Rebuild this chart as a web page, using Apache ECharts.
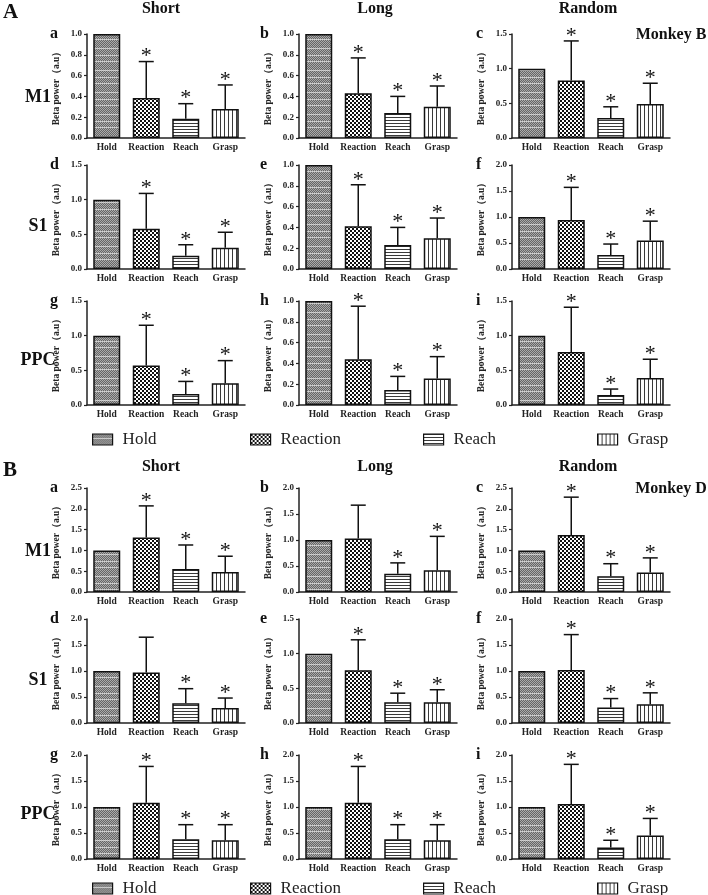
<!DOCTYPE html>
<html><head><meta charset="utf-8">
<script src="https://cdn.jsdelivr.net/npm/echarts@6/dist/echarts.min.js"></script>
<style>html,body{margin:0;padding:0;background:#fff}#c{width:708px;height:895px}</style>
</head><body><div id="c"></div>
<script>
const categories = ['Hold', 'Reaction', 'Reach', 'Grasp'];
const conditions = ['Short', 'Long', 'Random'];
const regions = ['M1', 'S1', 'PPC'];
const panelLetters = ['a', 'b', 'c', 'd', 'e', 'f', 'g', 'h', 'i'];
const yAxisName = 'Beta power（a.u）';

// Monkey B (section A), panels a..i : mean, upper error, significance star
const mB_a_mean = [1.00, 0.385, 0.185, 0.28]; const mB_a_err = [null, 0.735, 0.33, 0.51]; const mB_a_star = [0, 1, 1, 1];
const mB_b_mean = [1.00, 0.43, 0.24, 0.30];   const mB_b_err = [null, 0.77, 0.40, 0.50];  const mB_b_star = [0, 1, 1, 1];
const mB_c_mean = [1.00, 0.83, 0.29, 0.49];   const mB_c_err = [null, 1.40, 0.45, 0.79];  const mB_c_star = [0, 1, 1, 1];
const mB_d_mean = [1.00, 0.58, 0.19, 0.305];  const mB_d_err = [null, 1.09, 0.35, 0.53];  const mB_d_star = [0, 1, 1, 1];
const mB_e_mean = [1.00, 0.41, 0.23, 0.295];  const mB_e_err = [null, 0.81, 0.40, 0.49];  const mB_e_star = [0, 1, 1, 1];
const mB_f_mean = [1.00, 0.94, 0.27, 0.55];   const mB_f_err = [null, 1.57, 0.48, 0.92];  const mB_f_star = [0, 1, 1, 1];
const mB_g_mean = [1.00, 0.57, 0.16, 0.315];  const mB_g_err = [null, 1.15, 0.34, 0.64];  const mB_g_star = [0, 1, 1, 1];
const mB_h_mean = [1.00, 0.44, 0.145, 0.255]; const mB_h_err = [null, 0.95, 0.275, 0.465]; const mB_h_star = [0, 1, 1, 1];
const mB_i_mean = [1.00, 0.765, 0.145, 0.39]; const mB_i_err = [null, 1.41, 0.23, 0.66];  const mB_i_star = [0, 1, 1, 1];
const mB_yMax = [1.0, 1.0, 1.5, 1.5, 1.0, 2.0, 1.5, 1.0, 1.5];
const mB_yStep = [0.2, 0.2, 0.5, 0.5, 0.2, 0.5, 0.5, 0.2, 0.5];

// Monkey D (section B)
const mD_a_mean = [1.00, 1.31, 0.55, 0.48]; const mD_a_err = [null, 2.07, 1.13, 0.86]; const mD_a_star = [0, 1, 1, 1];
const mD_b_mean = [1.00, 1.03, 0.35, 0.42]; const mD_b_err = [null, 1.67, 0.56, 1.07]; const mD_b_star = [0, 0, 1, 1];
const mD_c_mean = [1.00, 1.37, 0.38, 0.47]; const mD_c_err = [null, 2.28, 0.68, 0.82]; const mD_c_star = [0, 1, 1, 1];
const mD_d_mean = [1.00, 0.97, 0.38, 0.29]; const mD_d_err = [null, 1.65, 0.66, 0.48]; const mD_d_star = [0, 0, 1, 1];
const mD_e_mean = [1.00, 0.76, 0.30, 0.30]; const mD_e_err = [null, 1.20, 0.43, 0.48]; const mD_e_star = [0, 1, 1, 1];
const mD_f_mean = [1.00, 1.02, 0.30, 0.36]; const mD_f_err = [null, 1.70, 0.47, 0.58]; const mD_f_star = [0, 1, 1, 1];
const mD_g_mean = [1.00, 1.08, 0.38, 0.36]; const mD_g_err = [null, 1.78, 0.66, 0.66]; const mD_g_star = [0, 1, 1, 1];
const mD_h_mean = [1.00, 1.08, 0.38, 0.36]; const mD_h_err = [null, 1.78, 0.66, 0.66]; const mD_h_star = [0, 1, 1, 1];
const mD_i_mean = [1.00, 1.06, 0.22, 0.45]; const mD_i_err = [null, 1.82, 0.36, 0.78]; const mD_i_star = [0, 1, 1, 1];
const mD_yMax = [2.5, 2.0, 2.5, 2.0, 1.5, 2.0, 2.0, 2.0, 2.0];
const mD_yStep = [0.5, 0.5, 0.5, 0.5, 0.5, 0.5, 0.5, 0.5, 0.5];

const monkeys = [
  { section: 'A', name: 'Monkey B', yOff: 0, legendTop: 426, yMax: mB_yMax, yStep: mB_yStep,
    means: [mB_a_mean, mB_b_mean, mB_c_mean, mB_d_mean, mB_e_mean, mB_f_mean, mB_g_mean, mB_h_mean, mB_i_mean],
    errs: [mB_a_err, mB_b_err, mB_c_err, mB_d_err, mB_e_err, mB_f_err, mB_g_err, mB_h_err, mB_i_err],
    stars: [mB_a_star, mB_b_star, mB_c_star, mB_d_star, mB_e_star, mB_f_star, mB_g_star, mB_h_star, mB_i_star] },
  { section: 'B', name: 'Monkey D', yOff: 454, legendTop: 875, yMax: mD_yMax, yStep: mD_yStep,
    means: [mD_a_mean, mD_b_mean, mD_c_mean, mD_d_mean, mD_e_mean, mD_f_mean, mD_g_mean, mD_h_mean, mD_i_mean],
    errs: [mD_a_err, mD_b_err, mD_c_err, mD_d_err, mD_e_err, mD_f_err, mD_g_err, mD_h_err, mD_i_err],
    stars: [mD_a_star, mD_b_star, mD_c_star, mD_d_star, mD_e_star, mD_f_star, mD_g_star, mD_h_star, mD_i_star] }
];

// ---------- textures ----------
function makeCanvas(w, h, draw) { const c = document.createElement('canvas'); c.width = w; c.height = h; draw(c.getContext('2d')); return c; }
const holdPat = makeCanvas(2, 22, g => {
  for (let y = 0; y < 22; y++) for (let x = 0; x < 2; x++) {
    g.fillStyle = ((x + y) % 2) ? '#666666' : '#ababab';
    if (y === 4 || y === 11 || y === 17) g.fillStyle = (x % 2) ? '#c2c2c2' : '#d4d4d4';
    g.fillRect(x, y, 1, 1);
  }
});
const reactionPat = makeCanvas(4, 4, g => { g.fillStyle = '#fff'; g.fillRect(0, 0, 4, 4); g.fillStyle = '#111'; g.fillRect(0, 0, 2, 2); g.fillRect(2, 2, 2, 2); });
const reachPat = makeCanvas(1, 3, g => { g.fillStyle = '#fff'; g.fillRect(0, 0, 1, 3); g.fillStyle = '#3a3a3a'; g.fillRect(0, 0, 1, 1); });
const graspPat = makeCanvas(4, 1, g => { g.fillStyle = '#fff'; g.fillRect(0, 0, 4, 1); g.fillStyle = '#3a3a3a'; g.fillRect(0, 0, 1, 1); });
const patterns = [holdPat, reactionPat, reachPat, graspPat].map(c => ({ image: c, repeat: 'repeat' }));

// ---------- layout ----------
const colLeft = [87, 299, 512];
const colNameX = [50, 260, 476];
const rowTop = [34, 165, 301];
const gridW = 158, gridH = 104;
const serif = '"Liberation Serif", "Times New Roman", serif';

const grids = [], xAxes = [], yAxes = [], series = [], graphics = [], legends = [];
let gi = 0;
monkeys.forEach(mk => {
  for (let p = 0; p < 9; p++) {
    const r = Math.floor(p / 3), c = p % 3;
    const top = rowTop[r] + mk.yOff;
    grids.push({ left: colLeft[c], top: top, width: gridW, height: gridH });
    xAxes.push({ type: 'category', gridIndex: gi, data: categories,
      axisLine: { lineStyle: { color: '#222', width: 1.5 } },
      axisTick: { alignWithLabel: true, length: 3, lineStyle: { color: '#222', width: 1.2 } },
      axisLabel: { interval: 0, fontFamily: serif, fontWeight: 'bold', fontSize: 9.5, color: '#222', margin: 5 } });
    yAxes.push({ type: 'value', gridIndex: gi, min: 0, max: mk.yMax[p], interval: mk.yStep[p],
      name: yAxisName, nameLocation: 'middle', nameGap: 25, nameRotate: 90,
      nameTextStyle: { fontFamily: serif, fontWeight: 'bold', fontSize: 9.5, color: '#222' },
      axisLine: { show: true, lineStyle: { color: '#222', width: 1.5 } },
      axisTick: { show: true, length: 3, lineStyle: { color: '#222', width: 1.2 } },
      splitLine: { show: false },
      axisLabel: { fontFamily: serif, fontWeight: 'bold', fontSize: 9, color: '#222', margin: 5, formatter: v => v.toFixed(1) } });
    const mean = mk.means[p], err = mk.errs[p], star = mk.stars[p];
    categories.forEach((cat, k) => {
      series.push({ type: 'bar', name: cat, xAxisIndex: gi, yAxisIndex: gi, barWidth: 27, barGap: '-100%',
        data: categories.map((_, j) => j === k ? mean[k] : '-'),
        itemStyle: { color: patterns[k], borderColor: '#111', borderWidth: 1.5 },
        silent: true, animation: false });
    });
    const errData = [];
    categories.forEach((_, k) => { if (err[k] != null) errData.push([k, mean[k], err[k], star[k]]); });
    series.push({ type: 'custom', xAxisIndex: gi, yAxisIndex: gi, z: 5, silent: true, animation: false, clip: false,
      data: errData, encode: { x: 0, y: 2 },
      renderItem: (params, api) => {
        const k = api.value(0), m = api.value(1), e = api.value(2), s = api.value(3);
        const p0 = api.coord([k, m]), p1 = api.coord([k, e]);
        const ch = [
          { type: 'line', shape: { x1: p0[0], y1: p0[1], x2: p1[0], y2: p1[1] }, style: { stroke: '#111', lineWidth: 1.5 } },
          { type: 'line', shape: { x1: p1[0] - 7.5, y1: p1[1], x2: p1[0] + 7.5, y2: p1[1] }, style: { stroke: '#111', lineWidth: 1.5 } }
        ];
        if (s) ch.push({ type: 'text', style: { text: '*', x: p1[0], y: p1[1] - 5, align: 'center', verticalAlign: 'middle', font: '22px ' + serif, fill: '#111' } });
        return { type: 'group', children: ch };
      } });
    graphics.push({ type: 'text', left: colNameX[c], top: top - 8, style: { text: panelLetters[p], font: 'bold 16px ' + serif, fill: '#111' } });
    gi++;
  }
  // section letter, titles, monkey name, region labels
  graphics.push({ type: 'text', left: 3, top: 2 + mk.yOff + (mk.yOff ? 4 : 0), style: { text: mk.section, font: 'bold 21px ' + serif, fill: '#111' } });
  const titleX = [161, 375, 588];
  conditions.forEach((t, i) => graphics.push({ type: 'text', x: titleX[i], y: 9 + mk.yOff + (mk.yOff ? 4 : 0), style: { text: t, font: 'bold 16px ' + serif, fill: '#111', align: 'center', verticalAlign: 'middle' } }));
  graphics.push({ type: 'text', x: 671, y: 35 + mk.yOff, style: { text: mk.name, font: 'bold 16px ' + serif, fill: '#111', align: 'center', verticalAlign: 'middle' } });
  const regY = [97, 226, 360];
  regions.forEach((rg, i) => graphics.push({ type: 'text', x: 38, y: regY[i] + mk.yOff, style: { text: rg, font: 'bold 18px ' + serif, fill: '#111', align: 'center', verticalAlign: 'middle' } }));
  const legX = [87, 245, 418, 592];
  categories.forEach((cat, k) => legends.push({ data: [cat], left: legX[k], top: mk.legendTop, icon: 'rect', itemWidth: 20, itemHeight: 11,
    itemGap: 0, selectedMode: false, itemStyle: { borderColor: '#111', borderWidth: 1.2 },
    textStyle: { fontFamily: serif, fontSize: 17, color: '#222', padding: [0, 0, 0, 5] } }));
});

const chart = echarts.init(document.getElementById('c'), null, { renderer: 'canvas' });
chart.setOption({ animation: false, backgroundColor: '#fff', grid: grids, xAxis: xAxes, yAxis: yAxes, series: series, legend: legends, graphic: graphics });
</script></body></html>
